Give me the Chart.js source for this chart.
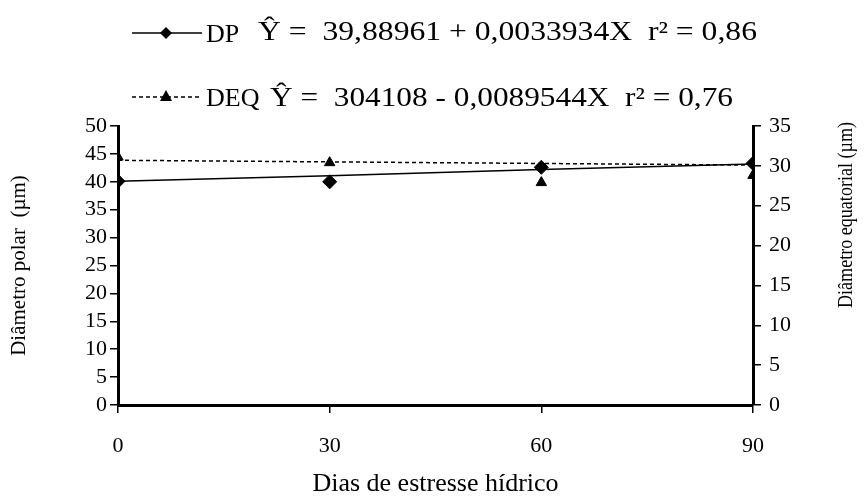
<!DOCTYPE html>
<html>
<head>
<meta charset="utf-8">
<script src="https://cdn.jsdelivr.net/npm/chart.js@4"></script>
<style>
  html, body { margin: 0; padding: 0; background: #fff; }
  #wrap { width: 868px; height: 500px; }
</style>
</head>
<body>
<div id="wrap"><canvas id="chart" width="868" height="500"></canvas></div>
<script>
// Data
var days = [0, 30, 60, 90];
var dpValues = [40.1, 40.0, 42.6, 43.3];
var deqValues = [31.1, 30.4, 27.9, 28.8];
var dpTrend = [40.1, 41.1, 42.2, 43.2];
var deqTrend = [30.7, 30.5, 30.3, 30.1];

var dpLabel = 'DP';
var deqLabel = 'DEQ';
var dpEquation = 'Ŷ =  39,88961 + 0,0033934X  r² = 0,86';
var deqEquation = 'Ŷ =  304108 - 0,0089544X  r² = 0,76';

var xTitle = 'Dias de estresse hídrico';
var leftTitle = 'Diâmetro polar  (µm)';
var rightTitle = 'Diâmetro equatorial (µm)';

var serif = '"Liberation Serif", "Times New Roman", serif';

function toPoints(xs, ys) {
    var pts = [];
    for (var i = 0; i < xs.length; i++) {
        pts.push({ x: xs[i], y: ys[i] });
    }
    return pts;
}

// text squeezed or stretched to a given width, drawn from its left edge
function fitText(ctx, text, x, y, width) {
    ctx.save();
    ctx.textAlign = 'left';
    var w = ctx.measureText(text).width;
    ctx.translate(x, y);
    ctx.scale(width / w, 1);
    ctx.fillText(text, 0, 0);
    ctx.restore();
}

// Draws the legend rows with equations and the right axis title
var extrasPlugin = {
    id: 'extras',
    afterDraw: function(chart) {
        var ctx = chart.ctx;
        ctx.save();
        ctx.fillStyle = '#000';
        ctx.strokeStyle = '#000';

        // row 1: DP
        var y1 = 33;
        ctx.lineWidth = 1.5;
        ctx.setLineDash([]);
        ctx.beginPath();
        ctx.moveTo(132, y1);
        ctx.lineTo(202, y1);
        ctx.stroke();
        ctx.beginPath();
        ctx.moveTo(166, y1 - 6);
        ctx.lineTo(172, y1);
        ctx.lineTo(166, y1 + 6);
        ctx.lineTo(160, y1);
        ctx.closePath();
        ctx.fill();

        // row 2: DEQ
        var y2 = 97;
        ctx.setLineDash([4, 3]);
        ctx.beginPath();
        ctx.moveTo(132, y2);
        ctx.lineTo(202, y2);
        ctx.stroke();
        ctx.setLineDash([]);
        ctx.beginPath();
        ctx.moveTo(166, y2 - 7);
        ctx.lineTo(172, y2 + 4);
        ctx.lineTo(160, y2 + 4);
        ctx.closePath();
        ctx.fill();

        ctx.textBaseline = 'middle';
        ctx.textAlign = 'left';
        ctx.font = '26px ' + serif;
        ctx.fillText(dpLabel, 206, y1 + 2);
        ctx.fillText(deqLabel, 206, y2 + 2);
        ctx.font = '27px ' + serif;
        fitText(ctx, dpEquation, 258, y1, 499);
        fitText(ctx, deqEquation, 270, y2 + 2, 463);

        // right axis title, reading bottom to top
        ctx.font = '20px ' + serif;
        ctx.translate(847, 215);
        ctx.rotate(-Math.PI / 2);
        fitText(ctx, rightTitle, -93, 0, 186);
        ctx.restore();
    }
};

var ctx = document.getElementById('chart').getContext('2d');

var tickFont = { family: serif, size: 22 };

var chart = new Chart(ctx, {
    type: 'line',
    data: {
        datasets: [
            {
                label: 'DP trend',
                data: toPoints(days, dpTrend),
                yAxisID: 'y',
                borderColor: '#000',
                borderWidth: 1.5,
                pointRadius: 0,
                fill: false
            },
            {
                label: 'DEQ trend',
                data: toPoints(days, deqTrend),
                yAxisID: 'y2',
                borderColor: '#000',
                borderWidth: 1.5,
                borderDash: [4, 3],
                pointRadius: 0,
                fill: false
            },
            {
                label: dpLabel,
                data: toPoints(days, dpValues),
                yAxisID: 'y',
                showLine: false,
                pointStyle: 'rectRot',
                pointRadius: 7,
                backgroundColor: '#000',
                borderColor: '#000'
            },
            {
                label: deqLabel,
                data: toPoints(days, deqValues),
                yAxisID: 'y2',
                showLine: false,
                pointStyle: 'triangle',
                pointRadius: 6,
                backgroundColor: '#000',
                borderColor: '#000'
            }
        ]
    },
    options: {
        responsive: false,
        animation: false,
        layout: { padding: { top: 126, left: 0, right: 0, bottom: 0 } },
        plugins: {
            legend: { display: false },
            tooltip: { enabled: false }
        },
        scales: {
            x: {
                type: 'linear',
                min: 0,
                max: 90,
                ticks: { stepSize: 30, autoSkip: false, color: '#000', font: tickFont, padding: 20 },
                grid: { display: true, drawOnChartArea: false, drawTicks: true, tickLength: 8, color: '#000', lineWidth: 1.5 },
                border: { display: true, color: '#000', width: 3 },
                title: { display: true, text: xTitle, color: '#000', font: { family: serif, size: 26 }, padding: { top: 0, bottom: 0 } },
                afterFit: function(scale) { scale.height = 95; }
            },
            y: {
                position: 'left',
                min: 0,
                max: 50,
                ticks: { stepSize: 5, autoSkip: false, color: '#000', font: tickFont, padding: 3 },
                grid: { display: true, drawOnChartArea: false, drawTicks: true, tickLength: 8, color: '#000', lineWidth: 1.5 },
                border: { display: true, color: '#000', width: 3 },
                title: { display: true, text: leftTitle, color: '#000', font: { family: serif, size: 21 }, padding: { top: 7, bottom: 0 } },
                afterFit: function(scale) { scale.width = 118; }
            },
            y2: {
                position: 'right',
                min: 0,
                max: 35,
                ticks: { stepSize: 5, autoSkip: false, color: '#000', font: tickFont, padding: 8 },
                grid: { display: true, drawOnChartArea: false, drawTicks: true, tickLength: 8, color: '#000', lineWidth: 1.5 },
                border: { display: true, color: '#000', width: 3 },
                title: { display: false },
                afterFit: function(scale) { scale.width = 115; }
            }
        }
    },
    plugins: [extrasPlugin]
});
</script>
</body>
</html>
